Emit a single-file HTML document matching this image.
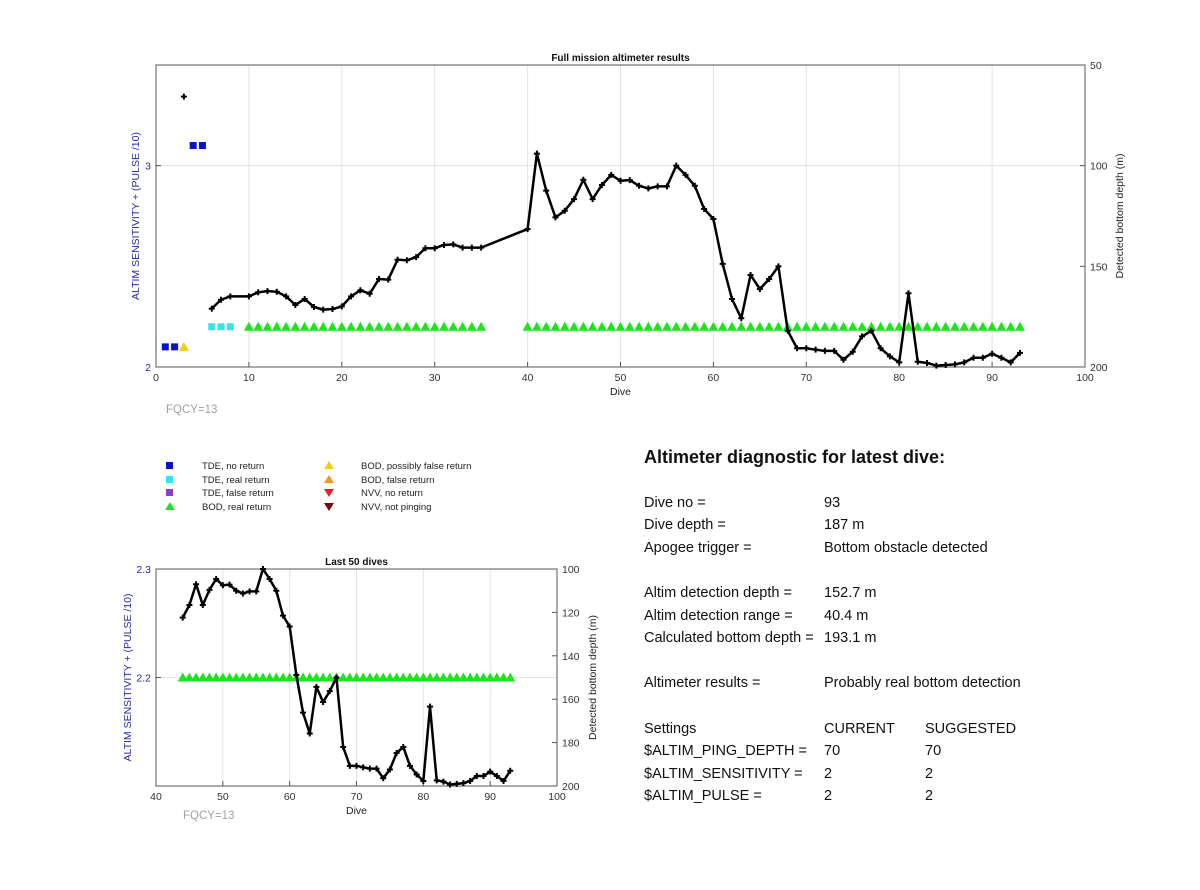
<!DOCTYPE html>
<html><head><meta charset="utf-8"><style>
body{margin:0;background:#fff;font-family:"Liberation Sans",Arial,sans-serif}
svg text{font-family:"Liberation Sans",Arial,sans-serif}
</style></head><body>
<svg id="svg" width="1200" height="885" xmlns="http://www.w3.org/2000/svg">
<rect width="1200" height="885" fill="#fff"/>
<g id="main"></g>
<g id="last"></g>
<g font-size="9.5" fill="#222">
  <rect x="166" y="462" width="7" height="7" fill="#0b12c8"/>
  <text x="202" y="469">TDE, no return</text>
  <rect x="166" y="476" width="7" height="7" fill="#35e4f2"/>
  <text x="202" y="483">TDE, real return</text>
  <rect x="166" y="489" width="7" height="7" fill="#8a3fd0"/>
  <text x="202" y="496">TDE, false return</text>
  <polygon points="170,502 175,510 165,510" fill="#1de51d"/>
  <text x="202" y="510">BOD, real return</text>
  <polygon points="329,461 334,469 324,469" fill="#f2cc1a"/>
  <text x="361" y="469">BOD, possibly false return</text>
  <polygon points="329,475 334,483 324,483" fill="#f0962a"/>
  <text x="361" y="483">BOD, false return</text>
  <polygon points="324,489 334,489 329,497" fill="#e32020"/>
  <text x="361" y="496">NVV, no return</text>
  <polygon points="324,503 334,503 329,511" fill="#7a0a0a"/>
  <text x="361" y="510">NVV, not pinging</text>
</g>
<g font-size="14.5" fill="#111">
  <text x="644" y="463" font-size="18" font-weight="bold">Altimeter diagnostic for latest dive:</text>
  <text x="644" y="507">Dive no =</text><text x="824" y="507">93</text>
  <text x="644" y="529">Dive depth =</text><text x="824" y="529">187 m</text>
  <text x="644" y="552">Apogee trigger =</text><text x="824" y="552">Bottom obstacle detected</text>
  <text x="644" y="597">Altim detection depth =</text><text x="824" y="597">152.7 m</text>
  <text x="644" y="620">Altim detection range =</text><text x="824" y="620">40.4 m</text>
  <text x="644" y="642">Calculated bottom depth =</text><text x="824" y="642">193.1 m</text>
  <text x="644" y="687">Altimeter results =</text><text x="824" y="687">Probably real bottom detection</text>
  <text x="644" y="733">Settings</text><text x="824" y="733">CURRENT</text><text x="925" y="733">SUGGESTED</text>
  <text x="644" y="755">$ALTIM_PING_DEPTH =</text><text x="824" y="755">70</text><text x="925" y="755">70</text>
  <text x="644" y="778">$ALTIM_SENSITIVITY =</text><text x="824" y="778">2</text><text x="925" y="778">2</text>
  <text x="644" y="800">$ALTIM_PULSE =</text><text x="824" y="800">2</text><text x="925" y="800">2</text>
</g>
</svg>
<script>
const depthDives = [6,7,8,10,11,12,13,14,15,16,17,18,19,20,21,22,23,24,25,26,27,28,29,30,31,32,33,34,35,40,41,42,43,44,45,46,47,48,49,50,51,52,53,54,55,56,57,58,59,60,61,62,63,64,65,66,67,68,69,70,71,72,73,74,75,76,77,78,79,80,81,82,83,84,85,86,87,88,89,90,91,92,93];
const depthValues = [171,166.6,164.9,164.9,162.9,162.3,162.6,164.9,169.2,166.2,170.2,171.5,171.2,169.9,164.9,161.9,163.6,156.3,156.6,146.7,147,145.4,141,141,139.4,139.1,140.7,140.7,140.7,131.5,94,112.4,125.7,122.4,116.6,107,116.6,109.6,104.6,107.5,107.2,110,111.3,110.3,110.3,100,104.6,110,121.5,126.5,148.8,166.2,175.8,154.3,161.3,156.3,150,182,190.7,190.7,191.4,192,192,196.4,192.4,184.8,182,190.7,194.7,197.7,163.4,197.4,198,199.3,199,198.7,197.7,195.4,195.4,193.4,195.4,197.7,193];
const isolatedDive = [3];
const isolatedDepth = [65.7];
const tdeNoReturnDives = [1,2,4,5];
const tdeNoReturnVals = [2.1,2.1,3.1,3.1];
const tdeRealReturnDives = [6,7,8];
const tdeRealReturnVals = [2.2,2.2,2.2];
const bodPossFalseDives = [3];
const bodPossFalseVals = [2.1];
const bodRealDives = [10,11,12,13,14,15,16,17,18,19,20,21,22,23,24,25,26,27,28,29,30,31,32,33,34,35,40,41,42,43,44,45,46,47,48,49,50,51,52,53,54,55,56,57,58,59,60,61,62,63,64,65,66,67,68,69,70,71,72,73,74,75,76,77,78,79,80,81,82,83,84,85,86,87,88,89,90,91,92,93];
const bodRealVal = 2.2;
const mainXTicks = [0,10,20,30,40,50,60,70,80,90,100];
const mainLeftTicks = [2,3];
const mainRightTicks = [50,100,150,200];
const lastXTicks = [40,50,60,70,80,90,100];
const lastLeftTicks = [2.2,2.3];
const lastRightTicks = [100,120,140,160,180,200];
const lastN = 50;

const NS='http://www.w3.org/2000/svg';
function el(tag,attrs,parent,txt){const e=document.createElementNS(NS,tag);for(const k in attrs)e.setAttribute(k,attrs[k]);if(txt!==undefined)e.textContent=txt;parent.appendChild(e);return e;}

function drawChart(g,cfg){
  const {L,R,T,B,x0,x1,y0,y1,d0,d1,minDive}=cfg;
  const sx=v=>L+(v-x0)/(x1-x0)*(R-L);
  const sy=v=>B-(v-y0)/(y1-y0)*(B-T);
  const sd=v=>T+(v-d0)/(d1-d0)*(B-T);
  const grid=el('g',{stroke:'#e3e3e3','stroke-width':1},g);
  
  
  cfg.xt.forEach(t=>{if(t>x0&&t<x1)el('line',{x1:sx(t),x2:sx(t),y1:T,y2:B},grid);});
  cfg.lt.forEach(t=>{const y=sy(t);if(y>T+1&&y<B-1)el('line',{x1:L,x2:R,y1:y,y2:y},grid);});
  const ax=el('g',{stroke:'#555','stroke-width':1,fill:'none'},g);
  
  
  el('rect',{x:L,y:T,width:R-L,height:B-T},ax);
  const xt=el('g',{'font-size':10.5,fill:'#333','text-anchor':'middle'},g);
  
  
  cfg.xt.forEach(t=>{el('line',{x1:sx(t),x2:sx(t),y1:B,y2:B-5,stroke:'#555'},g);el('text',{x:sx(t),y:B+14},xt,String(t));});
  const lt=el('g',{'font-size':10.5,fill:'#2a2a9a','text-anchor':'end'},g);
  
  
  cfg.lt.forEach(t=>{el('line',{x1:L,x2:L+5,y1:sy(t),y2:sy(t),stroke:'#555'},g);el('text',{x:L-5,y:sy(t)+4},lt,String(t));});
  const rt=el('g',{'font-size':10.5,fill:'#333'},g);
  
  
  cfg.rt.forEach(t=>{el('line',{x1:R,x2:R-5,y1:sd(t),y2:sd(t),stroke:'#555'},g);el('text',{x:R+5,y:sd(t)+4},rt,String(t));});
  const t=el('text',{x:(L+R)/2,y:T-4,'font-size':10,'font-weight':'bold','text-anchor':'middle',fill:'#111'},g,cfg.title);
  
  
  const xl=el('text',{x:(L+R)/2,y:B+28,'font-size':10.5,'text-anchor':'middle',fill:'#222'},g,'Dive');
  
  
  const fq=el('text',{x:cfg.fqx,y:B+cfg.fqdy,'font-size':11.5,fill:'#a0a0a0'},g,'FQCY=13');
  
  
  const yl=el('text',{transform:`translate(${cfg.ylx},${(T+B)/2}) rotate(-90)`,'font-size':10.5,'text-anchor':'middle',fill:'#2a2ab0'},g,'ALTIM SENSITIVITY + (PULSE /10)');
  
  
  const yr=el('text',{transform:`translate(${cfg.yrx},${(T+B)/2}) rotate(-90)`,'font-size':10.5,'text-anchor':'middle',fill:'#222'},g,'Detected bottom depth (m)');
  
  

  const inX=d=>d>=Math.max(x0,minDive)&&d<=x1;
  const tri=(x,y,c,name)=>{const p=el('polygon',{points:`${x},${y-5} ${x+5},${y+4} ${x-5},${y+4}`,fill:c},g);};
  const sq=(x,y,c,name)=>{const r=el('rect',{x:x-3.5,y:y-3.5,width:7,height:7,fill:c},g);};
  bodRealDives.forEach(d=>{if(inX(d))tri(sx(d),sy(bodRealVal),'#1de51d','bod-real-return-marker');});
  tdeNoReturnDives.forEach((d,i)=>{if(inX(d)&&tdeNoReturnVals[i]>=y0)sq(sx(d),sy(tdeNoReturnVals[i]),'#0b12c8','tde-no-return-marker');});
  tdeRealReturnDives.forEach((d,i)=>{if(inX(d)&&tdeRealReturnVals[i]>=y0)sq(sx(d),sy(tdeRealReturnVals[i]),'#35e4f2','tde-real-return-marker');});
  bodPossFalseDives.forEach((d,i)=>{if(inX(d)&&bodPossFalseVals[i]>=y0)tri(sx(d),sy(bodPossFalseVals[i]),'#f2cc1a','bod-possibly-false-marker');});
  const pts=[];depthDives.forEach((d,i)=>{if(inX(d))pts.push([sx(d),sd(depthValues[i])]);});
  const pl=el('polyline',{points:pts.map(p=>p.join(',')).join(' '),fill:'none',stroke:'#000','stroke-width':2.5,'stroke-linejoin':'round'},g);
  
  
  const mk=(x,y)=>{const p=el('path',{d:`M${x-3},${y}H${x+3}M${x},${y-3}V${y+3}`,stroke:'#000','stroke-width':2},g);};
  pts.forEach(p=>mk(p[0],p[1]));
  isolatedDive.forEach((d,i)=>{if(inX(d))mk(sx(d),sd(isolatedDepth[i]));});
}
const lastDive = depthDives[depthDives.length-1];
drawChart(document.getElementById('main'),{L:156,R:1085,T:65,B:367,x0:0,x1:100,y0:2,y1:3.5,d0:50,d1:200,minDive:0,xt:mainXTicks,lt:mainLeftTicks,rt:mainRightTicks,title:'Full mission altimeter results',fqx:166,fqdy:46,ylx:139,yrx:1123});
drawChart(document.getElementById('last'),{L:156,R:557,T:569,B:786,x0:40,x1:100,y0:2.1,y1:2.3,d0:100,d1:200,minDive:lastDive-lastN+1,xt:lastXTicks,lt:lastLeftTicks,rt:lastRightTicks,title:'Last 50 dives',fqx:183,fqdy:33,ylx:131,yrx:596});
</script>
</body></html>
